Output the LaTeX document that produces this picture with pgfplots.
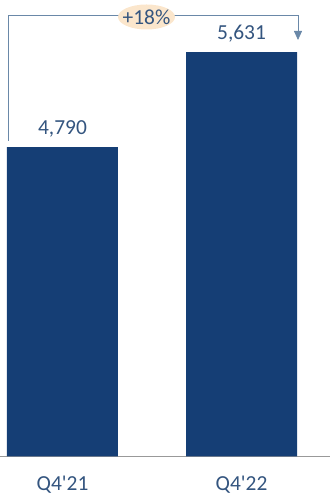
\documentclass[border=0pt]{standalone}
\usepackage{pgfplots}
\pgfplotsset{compat=1.18}
\usetikzlibrary{arrows.meta}
\usepackage{fontspec}
\setmainfont{Carlito}
\definecolor{barblue}{HTML}{153E75}
\definecolor{txtblue}{HTML}{34557F}
\definecolor{lineblue}{HTML}{6A88A8}
\definecolor{beige}{HTML}{FBE6CC}
\begin{document}
\begin{tikzpicture}[x=1bp,y=1bp]
\useasboundingbox (0,0) rectangle (330,496);
\begin{axis}[at={(0,35)}, anchor=south west, scale only axis,
  width=330bp, height=456bp,
  xmin=-0.349, xmax=1.494, ymin=2052, ymax=6089,
  axis x line=bottom, axis y line=none,
  axis line style={-, draw=gray!80, line width=0.8pt},
  xtick={0,1}, xticklabels={Q4\textquotesingle 21,Q4\textquotesingle 22}, xtick style={draw=none},
  ticklabel style={font=\fontsize{21.5}{25}\selectfont, text=txtblue},
  xticklabel style={yshift=-12bp},
  ybar, bar width=111bp, bar shift=0pt,
  clip=false,
  /pgf/number format/.cd, 1000 sep={,}, assume math mode=true, /pgfplots/.cd,
  nodes near coords,
  every node near coord/.append style={font=\fontsize{21.5}{25}\selectfont, text=txtblue, yshift=6bp},
  ]
\addplot[fill=barblue, draw=none] coordinates {(0,4790) (1,5631)};
\end{axis}
\draw[lineblue, line width=0.8pt, -{Triangle[length=9bp,width=8bp]}] (8,355) -- (8,481) -- (298,481) -- (298,456);
\fill[beige] (146.5,479) ellipse [x radius=28.5bp, y radius=12.5bp];
\node[text=txtblue, font=\fontsize{21.5}{25}\selectfont, inner sep=0pt] at (146.5,479) {+18\%};
\end{tikzpicture}
\end{document}
